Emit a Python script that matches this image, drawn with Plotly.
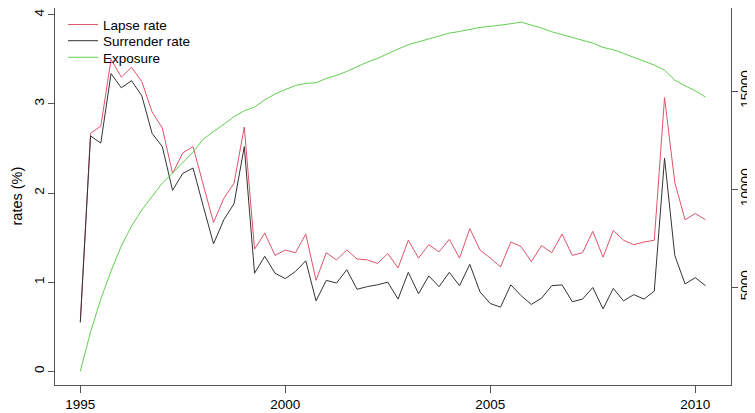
import plotly.graph_objects as go

quarters = [1995.0, 1995.25, 1995.5, 1995.75, 1996.0, 1996.25, 1996.5, 1996.75,
            1997.0, 1997.25, 1997.5, 1997.75, 1998.0, 1998.25, 1998.5, 1998.75,
            1999.0, 1999.25, 1999.5, 1999.75, 2000.0, 2000.25, 2000.5, 2000.75,
            2001.0, 2001.25, 2001.5, 2001.75, 2002.0, 2002.25, 2002.5, 2002.75,
            2003.0, 2003.25, 2003.5, 2003.75, 2004.0, 2004.25, 2004.5, 2004.75,
            2005.0, 2005.25, 2005.5, 2005.75, 2006.0, 2006.25, 2006.5, 2006.75,
            2007.0, 2007.25, 2007.5, 2007.75, 2008.0, 2008.25, 2008.5, 2008.75,
            2009.0, 2009.25, 2009.5, 2009.75, 2010.0, 2010.25]

lapse_rate = [0.55, 2.67, 2.75, 3.50, 3.30, 3.41, 3.25, 2.91, 2.73, 2.22, 2.45, 2.52,
              2.09, 1.67, 1.94, 2.11, 2.74, 1.37, 1.55, 1.30, 1.36, 1.33, 1.54, 1.02,
              1.33, 1.25, 1.36, 1.26, 1.25, 1.21, 1.32, 1.16, 1.47, 1.27, 1.42, 1.34,
              1.48, 1.27, 1.60, 1.36, 1.27, 1.17, 1.45, 1.40, 1.23, 1.41, 1.33, 1.54,
              1.30, 1.33, 1.57, 1.28, 1.58, 1.47, 1.42, 1.45, 1.47, 3.07, 2.12, 1.70,
              1.77, 1.70]

surrender_rate = [0.55, 2.64, 2.56, 3.34, 3.18, 3.26, 3.09, 2.67, 2.52, 2.03, 2.22, 2.28,
                  1.85, 1.43, 1.70, 1.88, 2.52, 1.10, 1.29, 1.10, 1.04, 1.12, 1.24, 0.79,
                  1.02, 0.99, 1.14, 0.92, 0.95, 0.97, 1.00, 0.81, 1.11, 0.87, 1.07, 0.95,
                  1.11, 0.96, 1.20, 0.89, 0.76, 0.72, 0.97, 0.85, 0.75, 0.82, 0.96, 0.97,
                  0.78, 0.81, 0.94, 0.70, 0.93, 0.79, 0.86, 0.81, 0.90, 2.39, 1.30, 0.98,
                  1.05, 0.96]

exposure = [723, 2724, 4405, 5830, 7103, 8122, 8936, 9649, 10311, 10820, 11380, 11890,
            12552, 12925, 13331, 13688, 13994, 14181, 14550, 14845, 15070, 15285, 15386,
            15420, 15641, 15794, 15998, 16235, 16472, 16659, 16913, 17135, 17355, 17507,
            17660, 17778, 17949, 18033, 18153, 18238, 18290, 18341, 18425, 18510, 18374,
            18204, 18016, 17863, 17746, 17593, 17440, 17220, 17100, 16913, 16727, 16539,
            16320, 16065, 15556, 15266, 15011, 14690]

x_ticks = [1995, 2000, 2005, 2010]
left_ticks = [0, 1, 2, 3, 4]
right_ticks = [5000, 10000, 15000]

FONT = "Liberation Sans, Arial, sans-serif"
AXC = "#555555"
LEG = dict(xanchor="left", yanchor="top", bgcolor="rgba(0,0,0,0)", borderwidth=0,
           font=dict(family=FONT, size=13.5, color="#000000"), itemwidth=30)
LEG_X = 0.0118

fig = go.Figure()
fig.add_trace(go.Scatter(x=quarters, y=lapse_rate, mode="lines", name="Lapse rate",
                         line=dict(color="#DF536B", width=1), legend="legend"))
fig.add_trace(go.Scatter(x=quarters, y=surrender_rate, mode="lines", name="Surrender rate",
                         line=dict(color="#333333", width=1), legend="legend2"))
fig.add_trace(go.Scatter(x=quarters, y=exposure, mode="lines", name="Exposure",
                         line=dict(color="#61D04F", width=1), yaxis="y2", legend="legend3"))

fig.update_layout(
    width=747, height=405,
    margin=dict(l=47, r=24, t=0, b=28, autoexpand=False),
    paper_bgcolor="white", plot_bgcolor="white",
    font=dict(family=FONT, size=13.5, color="#000000"),
    showlegend=True,
    legend=dict(x=LEG_X, y=0.9966, **LEG),
    legend2=dict(x=LEG_X, y=0.9538, **LEG),
    legend3=dict(x=LEG_X, y=0.9098, **LEG),
    xaxis=dict(range=[1994.383, 2010.871], tickvals=x_ticks, ticktext=[str(v) for v in x_ticks],
               showgrid=False, zeroline=False, showline=True, mirror=True,
               linecolor=AXC, linewidth=1, ticks="outside", ticklen=7, tickcolor=AXC,
               automargin=False,
               tickfont=dict(family=FONT, size=13.5, color="#000000")),
    yaxis=dict(range=[-0.1537, 4.0752], tickvals=left_ticks, ticktext=[str(v) for v in left_ticks],
               showgrid=False, zeroline=False, showline=True, mirror=True,
               linecolor=AXC, linewidth=1, ticks="outside", ticklen=6, tickcolor=AXC,
               tickangle=-90, automargin=False, ticklabelstandoff=-1,
               tickfont=dict(family=FONT, size=13.5, color="#000000")),
    yaxis2=dict(range=[23, 19228], overlaying="y", side="right",
                tickvals=right_ticks, ticktext=[str(v) for v in right_ticks],
                showgrid=False, zeroline=False, showline=False,
                ticks="outside", ticklen=6, tickcolor=AXC, tickangle=-90, automargin=False,
                ticklabelstandoff=-4,
                tickfont=dict(family=FONT, size=13.5, color="#000000")),
    annotations=[dict(text="rates (%)", xref="paper", yref="paper", x=0, y=0.5,
                      xanchor="center", yanchor="middle", xshift=-39, textangle=-90,
                      showarrow=False, font=dict(family=FONT, size=14.5, color="#000000"))],
)

fig.write_html("out.html")
